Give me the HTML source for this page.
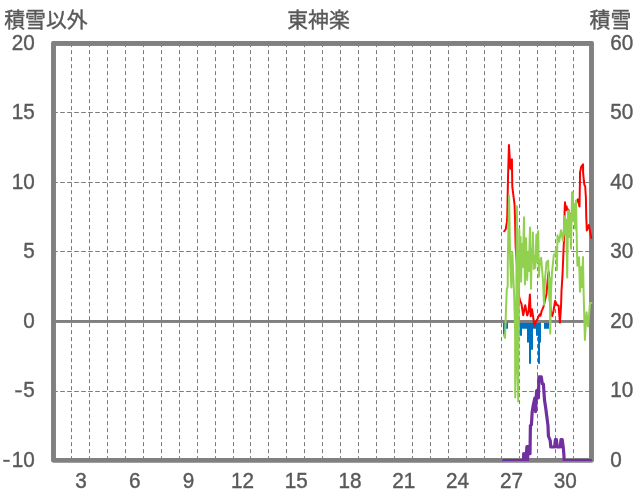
<!DOCTYPE html>
<html><head><meta charset="utf-8"><title>chart</title>
<style>html,body{margin:0;padding:0;background:#fff}body{width:636px;height:501px;overflow:hidden;font-family:"Liberation Sans",sans-serif}</style></head>
<body>
<svg width="636" height="501" viewBox="0 0 636 501" style="display:block;will-change:transform">
<rect width="636" height="501" fill="#fff"/>
<path d="M71.5 43.15V460.3M89.5 43.15V460.3M107.5 43.15V460.3M125.5 43.15V460.3M143.5 43.15V460.3M161.5 43.15V460.3M179.5 43.15V460.3M197.5 43.15V460.3M215.5 43.15V460.3M233.5 43.15V460.3M250.5 43.15V460.3M268.5 43.15V460.3M286.5 43.15V460.3M304.5 43.15V460.3M322.5 43.15V460.3M340.5 43.15V460.3M358.5 43.15V460.3M376.5 43.15V460.3M394.5 43.15V460.3M412.5 43.15V460.3M430.5 43.15V460.3M448.5 43.15V460.3M466.5 43.15V460.3M484.5 43.15V460.3M501.5 43.15V460.3M519.5 43.15V460.3M537.5 43.15V460.3M555.5 43.15V460.3M573.5 43.15V460.3" fill="none" stroke="#595959" stroke-width="0.8" stroke-dasharray="4 3"/>
<path d="M53.2 112.5H591.5M53.2 182.5H591.5M53.2 251.5H591.5M53.2 391.5H591.5" fill="none" stroke="#595959" stroke-width="0.8" stroke-dasharray="4.6 2.4"/>
<path d="M503 321.3H505V336H503ZM505 321.3H508V328.8H505ZM519.5 321.3H522V335.8H519.5ZM522 321.3H527V328.8H522ZM527 321.3H529V342.5H527ZM529 321.3H531V363.7H529ZM531 321.3H533V349.7H531ZM533 321.3H536V328.8H533ZM536 321.3H538V335.8H536ZM538 321.3H540V363.7H538ZM540 321.3H541V342.5H540ZM544 321.3H549V328.8H544Z" fill="#0070C0"/>
<rect x="53.5" y="43.4" width="538.0" height="416.9" fill="none" stroke="#808080" stroke-width="4.6" stroke-linejoin="round"/>
<path d="M53.5 321.45H591.5" stroke="#808080" stroke-width="2.8" fill="none"/>
<rect x="53.5" y="43.4" width="538.0" height="416.9" fill="none" stroke="#808080" stroke-width="4.6" stroke-linejoin="round"/>
<path d="M53.5 321.45H591.5" stroke="#808080" stroke-width="2.8" fill="none"/>
<path d="M504.10 231.30L505.00 230.30L505.75 229.00L507.00 221.40L507.30 215.00L507.60 199.00L508.00 178.00L508.95 145.00L510.40 168.80L511.20 168.00L511.90 159.20L512.20 180.00L512.30 186.60L513.70 197.80L514.50 204.00L515.00 217.00L515.30 231.00L515.65 247.00L516.60 260.00L517.60 275.00L519.20 297.00L520.20 301.30L521.40 303.50L523.20 315.20L525.20 305.20L527.20 315.50L528.50 312.00L529.90 294.40L530.70 316.20L532.00 309.20L534.40 325.50L535.50 322.50L537.20 319.60L539.00 315.50L539.80 314.40L540.60 315.60L541.60 311.00L542.30 309.60L543.60 306.30L546.50 294.00L548.10 275.00L548.70 272.00L549.40 285.00L550.20 305.00L551.30 314.00L552.25 316.10L553.50 311.00L555.10 301.00L557.00 305.00L558.60 305.70L559.90 322.60L561.00 307.00L561.50 291.00L562.50 275.00L563.75 245.00L564.30 232.00L564.60 212.00L565.00 202.30L565.90 210.00L566.60 206.50L567.50 210.50L568.30 209.50L570.50 217.00L572.40 212.00L574.30 208.00L576.00 203.00L577.90 199.30L579.50 206.60L580.00 178.00L580.00 172.60L581.30 166.50L583.06 164.30L583.10 172.60L583.90 181.00L584.40 184.90L585.20 186.20L585.90 197.80L586.25 217.00L586.80 230.50L588.80 225.00L591.30 238.00" fill="none" stroke="#FF0000" stroke-width="2" stroke-linejoin="round" stroke-linecap="round"/>
<path d="M503.80 335.00L505.00 338.00L506.10 307.00L506.80 289.00L507.70 286.50L507.80 262.00L509.07 195.50L510.20 262.00L511.40 287.50L512.30 251.90L514.20 297.00L515.10 330.00L515.20 397.60L516.20 350.00L516.50 258.00L516.90 206.30L517.50 350.00L518.20 401.40L519.30 228.90L520.00 275.10L520.60 236.90L521.10 281.80L521.90 243.90L522.80 267.10L524.00 217.20L524.90 284.60L526.00 238.30L527.20 279.90L527.90 251.90L528.80 271.10L530.00 227.40L531.00 288.80L531.80 248.90L532.30 261.10L532.90 232.50L533.80 269.10L534.60 255.90L535.30 267.70L536.40 234.40L537.00 262.10L538.20 231.20L538.90 276.70L539.80 262.00L541.10 257.70L542.90 279.00L544.00 304.80L545.00 279.00L546.50 262.20L548.10 260.60L549.40 301.10L550.00 277.90L550.20 333.50L551.00 292.00L552.00 272.50L553.85 254.60L555.20 254.30L556.30 247.90L556.90 269.90L557.50 235.20L559.20 241.80L560.90 230.30L563.00 240.80L564.70 216.30L565.50 235.10L566.30 219.40L567.20 277.60L568.10 210.60L569.00 212.00L569.70 237.10L570.40 214.90L571.00 248.70L572.05 192.30L572.85 192.30L573.45 221.10L574.50 203.90L575.00 228.60L576.00 200.60L577.00 251.40L577.40 265.70L579.00 257.30L580.00 291.70L581.20 266.90L581.90 287.10L583.00 257.10L583.60 292.00L584.90 340.00L586.50 312.30L588.10 326.50L590.00 303.10L591.50 303.00" fill="none" stroke="#92D050" stroke-width="2" stroke-linejoin="round" stroke-linecap="round"/>
<clipPath id="c"><rect x="0" y="0" width="591.8" height="460.9"/></clipPath>
<path clip-path="url(#c)" d="M503.60 460.60L523.50 460.60L523.70 453.60L524.50 460.60L525.20 453.60L526.00 460.60L526.90 446.60L527.50 460.60L528.20 446.60L529.30 446.60L530.00 453.70L530.40 425.60L531.40 425.00L532.20 411.70L533.30 405.00L534.40 400.00L535.00 397.80L535.60 411.70L536.60 391.00L537.70 390.00L538.40 398.00L538.90 376.90L541.30 376.90L542.30 383.80L543.40 384.00L544.50 400.00L545.70 408.00L548.00 425.60L548.40 436.00L550.20 440.50L550.80 447.00L554.60 447.00L555.40 439.60L556.40 439.60L557.20 447.00L560.20 447.00L561.00 439.60L562.20 439.60L563.20 447.00L563.80 453.40L564.20 460.60L591.50 460.60" fill="none" stroke="#7030A0" stroke-width="3.2" stroke-linejoin="round" stroke-linecap="round"/>
<g font-family="'Liberation Sans', 'Noto Sans CJK JP', sans-serif" font-size="20.85" fill="#595959" stroke="#595959" stroke-width="0.4"><text x="4.2" y="27.05" text-anchor="start">積雪以外</text><text x="318.5" y="27.05" text-anchor="middle">東神楽</text><text x="589.6" y="27.05" text-anchor="start">積雪</text></g>
<g font-family="'Liberation Sans', sans-serif" font-size="21.8" fill="#595959" stroke="#595959" stroke-width="0.4"><text transform="translate(34.85 49.75) scale(0.95 1.05)" text-anchor="end">20</text><text transform="translate(34.85 119.27) scale(0.95 1.05)" text-anchor="end">15</text><text transform="translate(34.85 188.80) scale(0.95 1.05)" text-anchor="end">10</text><text transform="translate(34.85 258.32) scale(0.95 1.05)" text-anchor="end">5</text><text transform="translate(34.85 327.85) scale(0.95 1.05)" text-anchor="end">0</text><text transform="translate(34.85 397.38) scale(0.95 1.05)" text-anchor="end">5</text><rect x="15.600000000000001" y="390.52" width="6" height="1.6" stroke-width="0.4"/><text transform="translate(34.85 466.90) scale(0.95 1.05)" text-anchor="end">10</text><rect x="3.5999999999999996" y="460.05" width="6" height="1.6" stroke-width="0.4"/><text transform="translate(610.30 49.75) scale(0.95 1.05)" text-anchor="start">60</text><text transform="translate(610.30 119.27) scale(0.95 1.05)" text-anchor="start">50</text><text transform="translate(610.30 188.80) scale(0.95 1.05)" text-anchor="start">40</text><text transform="translate(610.30 258.32) scale(0.95 1.05)" text-anchor="start">30</text><text transform="translate(610.30 327.85) scale(0.95 1.05)" text-anchor="start">20</text><text transform="translate(610.30 397.38) scale(0.95 1.05)" text-anchor="start">10</text><text transform="translate(610.30 466.90) scale(0.95 1.05)" text-anchor="start">0</text><text transform="translate(81.00 488.40) scale(0.95 1.05)" text-anchor="middle">3</text><text transform="translate(134.80 488.40) scale(0.95 1.05)" text-anchor="middle">6</text><text transform="translate(188.60 488.40) scale(0.95 1.05)" text-anchor="middle">9</text><text transform="translate(242.40 488.40) scale(0.95 1.05)" text-anchor="middle">12</text><text transform="translate(296.20 488.40) scale(0.95 1.05)" text-anchor="middle">15</text><text transform="translate(350.00 488.40) scale(0.95 1.05)" text-anchor="middle">18</text><text transform="translate(403.80 488.40) scale(0.95 1.05)" text-anchor="middle">21</text><text transform="translate(457.60 488.40) scale(0.95 1.05)" text-anchor="middle">24</text><text transform="translate(511.40 488.40) scale(0.95 1.05)" text-anchor="middle">27</text><text transform="translate(565.20 488.40) scale(0.95 1.05)" text-anchor="middle">30</text></g>
</svg>
</body></html>
